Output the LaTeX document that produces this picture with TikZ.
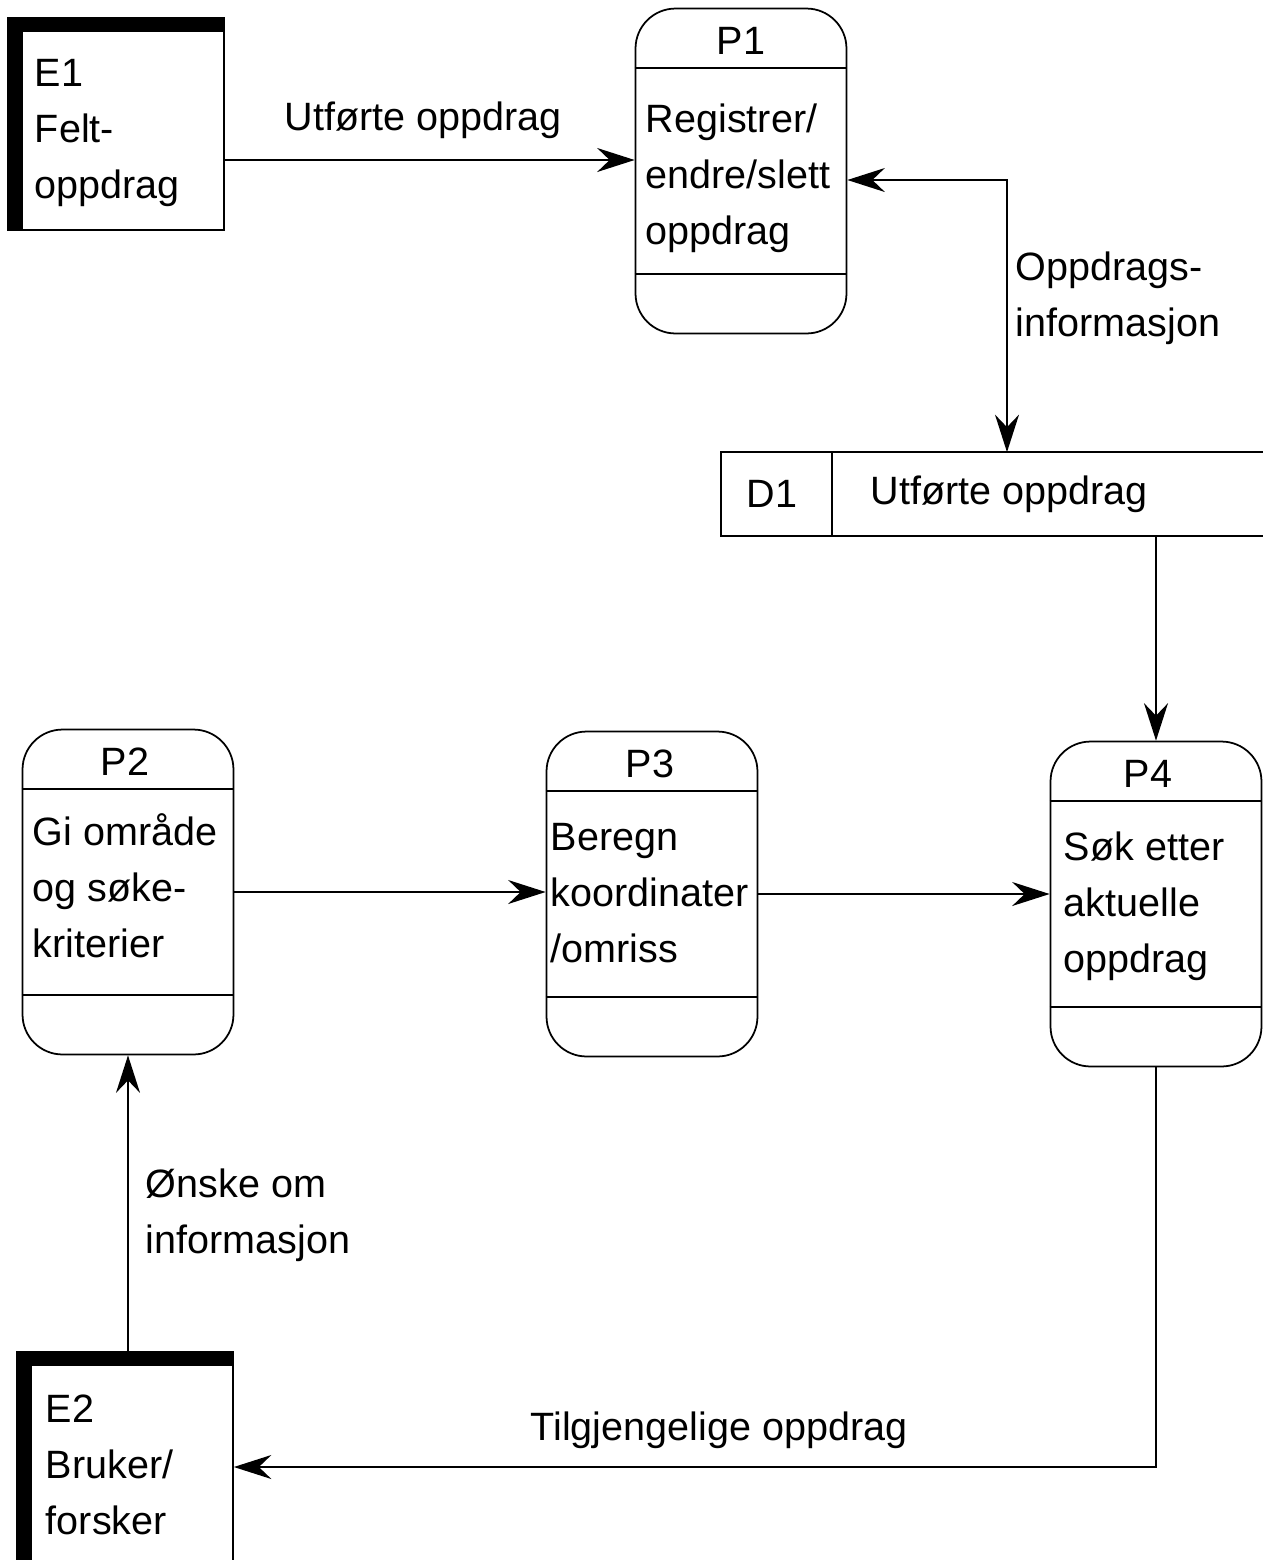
\documentclass[tikz,border=0pt]{standalone}
\usepackage{fontspec}
\setmainfont{Liberation Sans}
\usetikzlibrary{arrows.meta,calc}
\tikzstyle{proc}=[draw, rounded corners=0.8cm,
    minimum width=4.22cm, minimum height=6.5cm]
\tikzstyle{ent}=[draw, minimum width=4.32cm, minimum height=4.24cm]
\tikzstyle{store}=[minimum width=10.8cm, minimum height=1.64cm]
\tikzstyle{txt}=[anchor=north west, align=left, inner sep=0pt]
\tikzstyle{lbl}=[inner sep=0pt]
\def\divh{60}

\begin{document}
\begin{tikzpicture}[x=0.02cm, y=-0.02cm, line width=1pt,
    >={Stealth[length=0.75cm, width=0.48cm, inset=0.25cm]},
    font=\fontsize{22.5}{32}\selectfont]
    \useasboundingbox (0,0) rectangle (1264,1560);
    % processes
    \node (p1) [proc] at (741,171) {};
    \node (p2) [proc] at (128,892) {};
    \node (p3) [proc] at (652,894) {};
    \node (p4) [proc] at (1156,904) {};
    \foreach \p in {p1,p2,p3,p4} {
      \draw ($(\p.north west)+(0,\divh)$) -- ($(\p.north east)+(0,\divh)$);
      \draw ($(\p.south west)+(0,-\divh)$) -- ($(\p.south east)+(0,-\divh)$);
    }
    \path (p1.north)+(0,33) node (p1id) {P1};
    \path (p2.north)+(-3,33) node (p2id) {P2};
    \path (p3.north)+(-2,33) node (p3id) {P3};
    \path (p4.north)+(-8,33) node (p4id) {P4};
    \node (p1txt) [txt] at (645,92) {\strut Registrer/\\endre/slett\\oppdrag};
    \node (p2txt) [txt] at (32,805) {\strut Gi område\\og søke-\\kriterier};
    \node (p3txt) [txt] at (550,810) {\strut Beregn\\koordinater\\/omriss};
    \node (p4txt) [txt] at (1063,820) {\strut Søk etter\\aktuelle\\oppdrag};
    % external entities
    \node (e1) [ent] at (116,124) {};
    \fill (e1.north west) rectangle ($(e1.south west)+(16,0)$);
    \fill (e1.north west) rectangle ($(e1.north east)+(0,15)$);
    \node (e1txt) [txt] at (34,46) {\strut E1\\Felt-\\oppdrag};
    \node (e2) [ent, minimum height=4.6cm] at (125,1467) {};
    \fill (e2.north west) rectangle ($(e2.south west)+(16,0)$);
    \fill (e2.north west) rectangle ($(e2.north east)+(0,15)$);
    \node (e2txt) [txt] at (45,1382) {\strut E2\\Bruker/\\forsker};
    % data store
    \node (d1) [store] at (992,494) {};
    \draw (d1.north east) -- (d1.north west) -- (d1.south west) -- (d1.south east);
    \draw ($(d1.north west)+(111,0)$) -- ($(d1.south west)+(111,0)$);
    \node (d1id) [lbl] at (772,494) {D1};
    \node (d1txt) [lbl, anchor=west] at (870,494) {Utførte oppdrag};
    % flows
    \coordinate (a1) at ($(e1.east)+(0,36)$);
    \draw[->] (a1) -- (a1 -| p1.west);
    \node (l1) [lbl] at (423,120) {Utførte oppdrag};
    \draw[<->] ($(p1.east)+(0,9)$) -| ($(d1.north)+(15,0)$);
    \node (l2) [txt] at (1015,240) {\strut Oppdrags-\\informasjon};
    \draw[->] (p4.north |- d1.south) -- (p4.north);
    \draw[->] (p2.east) -- (p2.east -| p3.west);
    \draw[->] (p3.east) -- (p3.east -| p4.west);
    \draw[->] (p4.south) |- (e2.east);
    \node (l4) [lbl] at (719,1430) {Tilgjengelige oppdrag};
    \draw[->] (p2.south |- e2.north) -- (p2.south);
    \node (l3) [txt] at (145,1157) {\strut Ønske om\\informasjon};
\end{tikzpicture}
\end{document}
